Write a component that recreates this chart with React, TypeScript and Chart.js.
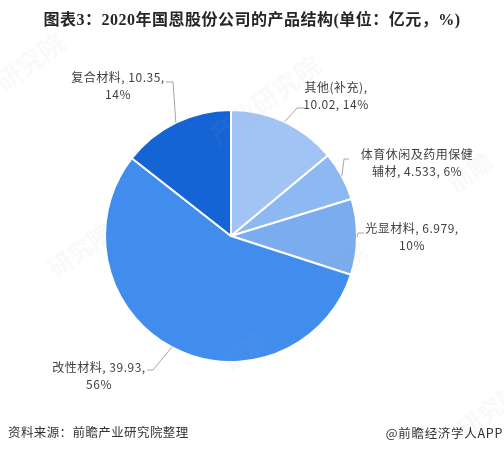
import React, { useEffect, useRef } from 'react';
import { Chart, registerables } from 'chart.js';

Chart.register(...registerables);

const categories = ['其他(补充)', '体育休闲及药用保健辅材', '光显材料', '改性材料', '复合材料'];
const values = [10.02, 4.533, 6.979, 39.93, 10.35];
const colors = ['#A2C4F5', '#8DB9F3', '#7AACEF', '#418DEE', '#1564D6'];

const titleText = '图表3\uFF1A2020年国恩股份公司的产品结构(单位\uFF1A亿元\uFF0C%)';
const sourceText = '资料来源\uFF1A前瞻产业研究院整理';
const creditText = '@前瞻经济学人APP';

// wrapped data labels, same order as categories
const labelLines = [
  ['其他(补充),', '10.02, 14%'],
  ['体育休闲及药用保健', '辅材, 4.533, 6%'],
  ['光显材料, 6.979,', '10%'],
  ['改性材料, 39.93,', '56%'],
  ['复合材料, 10.35,', '14%'],
];
// label centre x, first line y
const labelPos = [
  [336, 87],
  [417, 154],
  [412, 228],
  [99, 367],
  [118, 77],
];
// leader line: elbow and end
const leaders = [
  [[297, 108], [304, 108]],
  [[344, 159], [349, 159]],
  [[358, 233], [364, 233]],
  [[153, 370], [147, 370]],
  [[173, 82], [166, 82]],
];

const watermarks = [
  { text: '研究院', x: 30, y: 62, size: 26 },
  { text: '产业研究院', x: 265, y: 100, size: 26 },
  { text: '前瞻', x: 245, y: 350, size: 24 },
  { text: '究院', x: 345, y: 262, size: 24 },
  { text: '前瞻', x: 470, y: 172, size: 24 },
  { text: '研究院', x: 490, y: 410, size: 24 },
  { text: '研究院', x: 80, y: 250, size: 24 },
];

const textPlugin = {
  id: 'textPlugin',
  afterDraw(chart: any) {
    const ctx = chart.ctx;
    const arcs = chart.getDatasetMeta(0).data;
    ctx.save();

    // watermark
    ctx.fillStyle = 'rgba(150,165,185,0.07)';
    ctx.textAlign = 'center';
    ctx.textBaseline = 'middle';
    watermarks.forEach((w) => {
      ctx.save();
      ctx.translate(w.x, w.y);
      ctx.rotate(-Math.PI / 5);
      ctx.font = `bold ${w.size}px "Noto Sans CJK SC"`;
      ctx.fillText(w.text, 0, 0);
      ctx.restore();
    });

    // leader lines start on the arc middle
    ctx.strokeStyle = '#A6A6A6';
    ctx.lineWidth = 1;
    arcs.forEach((arc: any, i: number) => {
      const mid = (arc.startAngle + arc.endAngle) / 2;
      ctx.beginPath();
      ctx.moveTo(arc.x + Math.cos(mid) * arc.outerRadius, arc.y + Math.sin(mid) * arc.outerRadius);
      leaders[i].forEach((p) => ctx.lineTo(p[0], p[1]));
      ctx.stroke();
    });

    // data labels
    ctx.fillStyle = '#404040';
    ctx.font = '12px "Noto Sans CJK SC"';
    ctx.letterSpacing = '0.5px';
    labelLines.forEach((lines, i) => {
      lines.forEach((line, j) => {
        ctx.fillText(line, labelPos[i][0], labelPos[i][1] + j * 17);
      });
    });

    // title and footer
    ctx.letterSpacing = '0.5px';
    ctx.fillStyle = '#262626';
    ctx.font = 'bold 16px "Liberation Serif", "Noto Sans CJK SC"';
    ctx.fillText(titleText, 252, 21);

    ctx.fillStyle = '#333333';
    ctx.textAlign = 'left';
    ctx.font = '12.5px "Noto Sans CJK SC"';
    ctx.letterSpacing = '0.4px';
    ctx.fillText(sourceText, 8, 432);
    ctx.textAlign = 'right';
    ctx.letterSpacing = '0.7px';
    ctx.fillText(creditText, 503, 433);
    ctx.restore();
  },
};

export default function App() {
  const canvasRef = useRef<HTMLCanvasElement | null>(null);

  useEffect(() => {
    if (!canvasRef.current) return;
    const chart = new Chart(canvasRef.current, {
      type: 'pie',
      data: {
        labels: categories,
        datasets: [{
          data: values,
          backgroundColor: colors,
          borderColor: '#FFFFFF',
          borderWidth: 2,
          borderAlign: 'center',
        }],
      },
      options: {
        responsive: false,
        animation: false,
        layout: { padding: { left: 104, right: 146, top: 109, bottom: 90 } },
        plugins: {
          legend: { display: false },
          title: { display: false },
          tooltip: { enabled: false },
        },
      },
      plugins: [textPlugin],
    });
    return () => chart.destroy();
  }, []);

  return (
    <div style={{ position: 'absolute', left: 0, top: 0, width: 504, height: 453, background: '#fff' }}>
      <canvas ref={canvasRef} width={504} height={453} style={{ display: 'block' }} />
    </div>
  );
}
